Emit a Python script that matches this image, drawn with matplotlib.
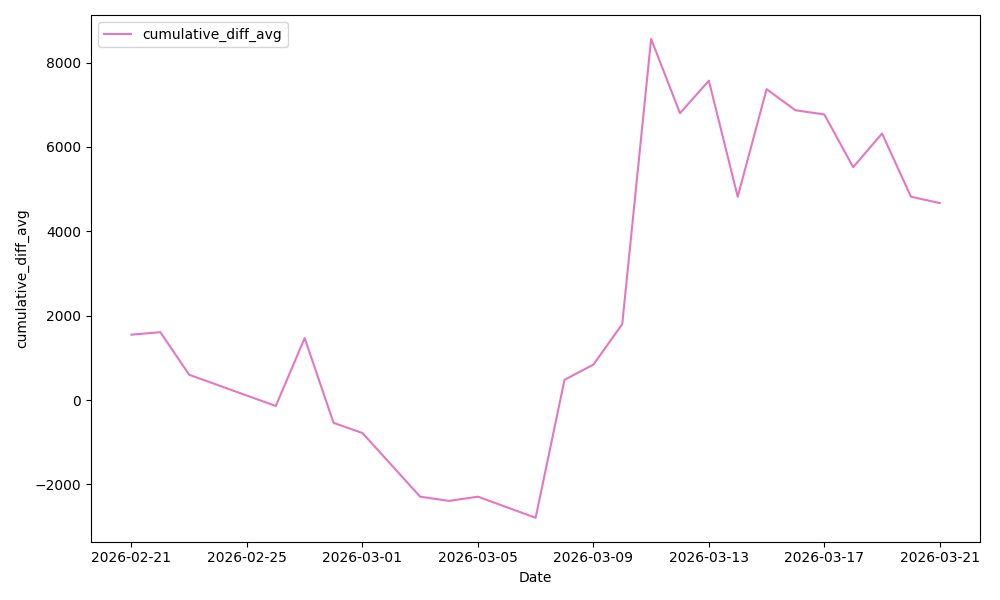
import matplotlib
matplotlib.use("Agg")
import matplotlib.pyplot as plt
import matplotlib.dates as mdates
import pandas as pd

dates = ["2026-02-21", "2026-02-22", "2026-02-23", "2026-02-26", "2026-02-27",
         "2026-02-28", "2026-03-01", "2026-03-03", "2026-03-04", "2026-03-05",
         "2026-03-07", "2026-03-08", "2026-03-09", "2026-03-10", "2026-03-11",
         "2026-03-12", "2026-03-13", "2026-03-14", "2026-03-15", "2026-03-16",
         "2026-03-17", "2026-03-18", "2026-03-19", "2026-03-20", "2026-03-21"]
values = [1550, 1610, 600, -140, 1470,
          -540, -780, -2290, -2390, -2290,
          -2790, 480, 840, 1800, 8560,
          6800, 7570, 4820, 7370, 6870,
          6770, 5520, 6320, 4820, 4670]

x = pd.to_datetime(dates)

fig, ax = plt.subplots(figsize=(10, 6), dpi=100)
ax.plot(x, values, color="#e377c2", label="cumulative_diff_avg")
ax.set_xlabel("Date")
ax.set_ylabel("cumulative_diff_avg")
ax.xaxis.set_major_locator(mdates.DayLocator(interval=4))
ax.xaxis.set_major_formatter(mdates.DateFormatter("%Y-%m-%d"))
ax.legend(loc="upper left")
fig.tight_layout()
fig.savefig("out.png")
